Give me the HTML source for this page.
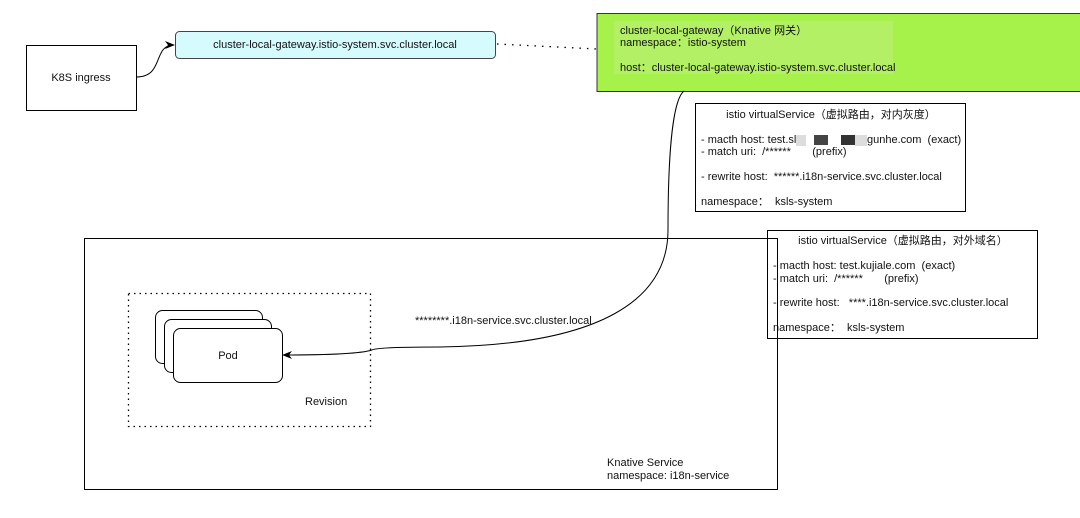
<!DOCTYPE html>
<html><head><meta charset="utf-8"><style>
html,body{margin:0;padding:0;background:#fff;}
svg{display:block;}
text{font-family:"Liberation Sans","Noto Sans CJK SC",sans-serif;font-size:11px;fill:#111;white-space:pre;}
</style></head><body>
<svg width="1080" height="518" viewBox="0 0 1080 518" xmlns="http://www.w3.org/2000/svg" xml:space="preserve">
<defs><marker id="ah" markerWidth="10" markerHeight="8" refX="9" refY="4" orient="auto" markerUnits="userSpaceOnUse"><path d="M0,0 L10,4 L0,8 L3,4 z" fill="#000"/></marker></defs>
<rect x="26.5" y="45.5" width="110" height="65" fill="#fff" stroke="#000"/>
<text x="81" y="81" text-anchor="middle">K8S ingress</text>
<path d="M136,77 C165,77 152,45 174,45" fill="none" stroke="#000" marker-end="url(#ah)"/>
<rect x="175.5" y="31.5" width="320" height="27" rx="4" fill="#d6fbff" stroke="#444"/>
<text x="335" y="48" text-anchor="middle">cluster-local-gateway.istio-system.svc.cluster.local</text>
<path d="M497,44 L597,49" stroke="#000" stroke-width="1.3" stroke-dasharray="1.5,6" fill="none"/>
<rect x="597" y="13.5" width="490" height="78" fill="#a6f14a" stroke="#333"/>
<rect x="614" y="21" width="279" height="53" fill="#b3f065"/>
<text x="620" y="34">cluster-local-gateway（Knative 网关）</text>
<text x="620" y="46">namespace：istio-system</text>
<text x="620" y="71">host：cluster-local-gateway.istio-system.svc.cluster.local</text>
<rect x="695.5" y="103.5" width="270" height="108" fill="#fff" stroke="#000"/>
<text x="831" y="118" text-anchor="middle">istio virtualService（虚拟路由，对内灰度）</text>
<text x="701" y="143">- macth host: test.sl</text>
<rect x="796" y="135" width="10" height="11" fill="#ddd"/>
<rect x="814" y="135" width="14" height="10" fill="#444"/>
<rect x="841" y="135" width="14" height="10" fill="#333"/>
<rect x="855" y="135" width="12" height="11" fill="#ddd"/>
<text x="867" y="143">gunhe.com  (exact)</text>
<text x="701" y="155">- match uri:  /******       (prefix)</text>
<text x="701" y="180">- rewrite host:  ******.i18n-service.svc.cluster.local</text>
<text x="701" y="205">namespace：  ksls-system</text>
<rect x="767.5" y="230.5" width="270" height="108" fill="#fff" stroke="#000"/>
<text x="903" y="244" text-anchor="middle">istio virtualService（虚拟路由，对外域名）</text>
<text x="773" y="269">- macth host: test.kujiale.com  (exact)</text>
<text x="773" y="282">- match uri:  /******       (prefix)</text>
<text x="773" y="306">- rewrite host:   ****.i18n-service.svc.cluster.local</text>
<text x="773" y="331">namespace：  ksls-system</text>
<rect x="84.5" y="238.5" width="693" height="251" fill="none" stroke="#000"/>
<text x="607" y="466">Knative Service</text>
<text x="607" y="479">namespace: i18n-service</text>
<rect x="128.5" y="293.5" width="242" height="133" fill="none" stroke="#000" stroke-width="1.3" stroke-dasharray="1.5,4"/>
<text x="305" y="405">Revision</text>
<rect x="155.5" y="310.5" width="107" height="53" rx="7" fill="#fff" stroke="#000"/>
<rect x="164.5" y="319.5" width="107" height="53" rx="7" fill="#fff" stroke="#000"/>
<rect x="173.5" y="328.5" width="109" height="54" rx="7" fill="#fff" stroke="#000"/>
<text x="228" y="359" text-anchor="middle">Pod</text>
<text x="415" y="324">********.i18n-service.svc.cluster.local</text>
<path d="M684,91 C672,100 668,160 668,230 C668,300 600,345 440,347 C400,347 375,348 372,350 C360,354 320,355 283,355" fill="none" stroke="#000" marker-end="url(#ah)"/>
</svg>
</body></html>
